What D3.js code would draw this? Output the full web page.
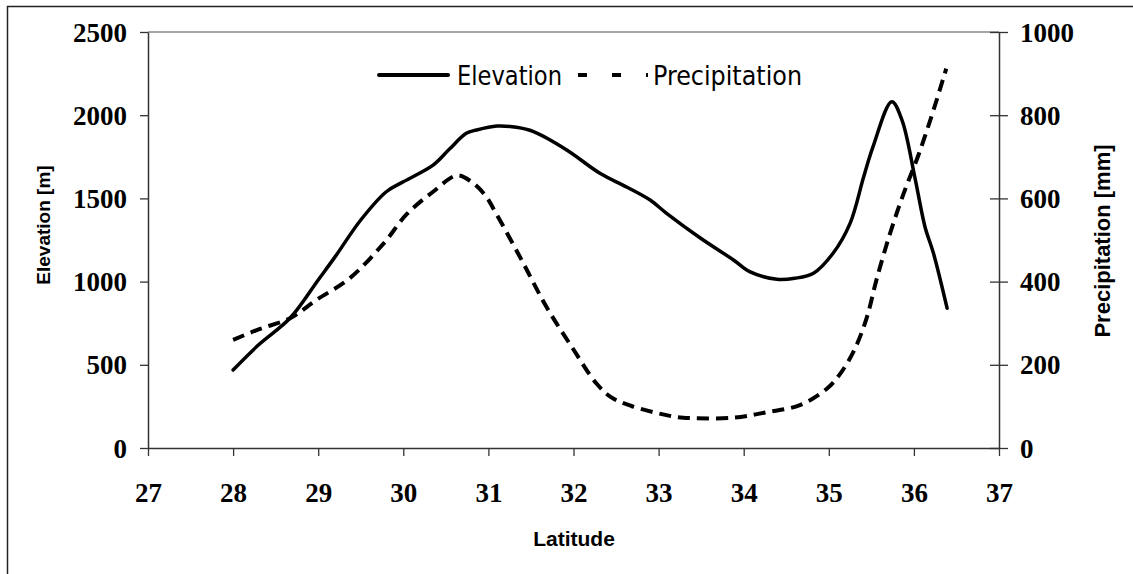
<!DOCTYPE html>
<html>
<head>
<meta charset="utf-8">
<script src="https://cdn.jsdelivr.net/npm/d3@7.9.0/dist/d3.min.js"></script>
<style>
  body { margin: 0; background: #fff; }
  svg { display: block; }
  .tick-label { font-family: "Liberation Serif", "Times New Roman", serif; font-weight: bold; font-size: 27px; fill: #000; }
  .axis-title { font-family: "Liberation Sans", Arial, sans-serif; font-weight: bold; font-size: 19px; fill: #000; }
  .legend-text { font-family: "DejaVu Sans", sans-serif; font-stretch: condensed; font-size: 27px; fill: #000; }
</style>
</head>
<body>
<svg id="chart"></svg>
<script>
// latitude / elevation [m]
const elevLat = [28.0, 28.3, 28.67, 29.0, 29.2, 29.5, 29.8, 30.0, 30.35, 30.54, 30.74, 30.86, 31.1, 31.33, 31.53, 31.92, 32.31, 32.63, 32.9, 33.09, 33.49, 33.88, 34.07, 34.39, 34.6, 34.82, 35.05, 35.25, 35.41, 35.52, 35.74, 35.86, 36.01, 36.13, 36.23, 36.39];
const elevation = [469, 620, 781, 1010, 1150, 1370, 1540, 1600, 1700, 1795, 1891, 1911, 1935, 1927, 1901, 1791, 1651, 1567, 1490, 1412, 1262, 1130, 1060, 1014, 1020, 1050, 1170, 1350, 1630, 1811, 2081, 1971, 1630, 1330, 1170, 840];

// latitude / precipitation [mm]
const precLat = [28.0, 28.3, 28.67, 28.98, 29.37, 29.77, 30.04, 30.35, 30.63, 30.8, 30.96, 31.09, 31.39, 31.68, 31.98, 32.27, 32.45, 32.68, 33.09, 33.29, 33.88, 34.27, 34.66, 34.98, 35.15, 35.31, 35.45, 35.56, 35.72, 35.88, 36.06, 36.23, 36.38];
const precipitation = [260, 285, 312, 356, 408, 492, 562, 616, 655, 640, 608, 564, 452, 340, 243, 155, 121, 101, 79, 73, 73, 86, 103, 143, 183, 240, 316, 404, 516, 612, 708, 812, 912];

const xTicks = [27, 28, 29, 30, 31, 32, 33, 34, 35, 36, 37];
const elevTicks = [0, 500, 1000, 1500, 2000, 2500];
const precTicks = [0, 200, 400, 600, 800, 1000];

const width = 1133;
const height = 574;

const svg = d3.select('#chart')
  .attr('width', width)
  .attr('height', height);

const plot = { left: 148, right: 999, top: 32, bottom: 448 };

const x = d3.scaleLinear().domain([27, 37]).range([plot.left, plot.right]);
const yL = d3.scaleLinear().domain([0, 2500]).range([plot.bottom, plot.top]);
const yR = d3.scaleLinear().domain([0, 1000]).range([plot.bottom, plot.top]);

// outer frame (left and top edges visible)
svg.append('path')
  .attr('d', `M7.5,${height} L7.5,6.5 L${width},6.5`)
  .attr('fill', 'none')
  .attr('stroke', '#222')
  .attr('stroke-width', 1.5);

// top edge of plot area
svg.append('line')
  .attr('x1', plot.left).attr('x2', plot.right)
  .attr('y1', plot.top).attr('y2', plot.top)
  .attr('stroke', '#888')
  .attr('stroke-width', 1.5);

// axes
const axisColor = '#333';
const fmt = d3.format('d');

const xAxis = svg.append('g')
  .attr('transform', `translate(0, ${plot.bottom})`)
  .call(d3.axisBottom(x).tickValues(xTicks).tickSize(8).tickSizeOuter(0).tickFormat(fmt));

const leftAxis = svg.append('g')
  .attr('transform', `translate(${plot.left}, 0)`)
  .call(d3.axisLeft(yL).tickValues(elevTicks).tickSize(8).tickSizeOuter(0).tickPadding(13).tickFormat(fmt));

const rightAxis = svg.append('g')
  .attr('transform', `translate(${plot.right}, 0)`)
  .call(d3.axisRight(yR).tickValues(precTicks).tickSize(9).tickSizeOuter(0).tickPadding(12).tickFormat(fmt));

rightAxis.selectAll('.tick line').attr('x1', -9);

for (const g of [xAxis, leftAxis, rightAxis]) {
  g.select('.domain').attr('stroke', axisColor).attr('stroke-width', 1.5);
  g.selectAll('.tick line').attr('stroke', axisColor).attr('stroke-width', 1.3);
  g.selectAll('.tick text').attr('class', 'tick-label').attr('font-family', null).attr('font-size', null);
}
xAxis.selectAll('.tick text').attr('dy', null).attr('y', 54);
leftAxis.selectAll('.tick text').attr('dy', '0.34em');
rightAxis.selectAll('.tick text').attr('dy', '0.34em');

// series
const lineElev = d3.line()
  .x((d, i) => x(elevLat[i]))
  .y((d) => yL(d))
  .curve(d3.curveCatmullRom.alpha(0.5));

const linePrec = d3.line()
  .x((d, i) => x(precLat[i]))
  .y((d) => yR(d))
  .curve(d3.curveCatmullRom.alpha(0.5));

svg.append('path')
  .datum(precipitation)
  .attr('d', linePrec)
  .attr('fill', 'none')
  .attr('stroke', '#000')
  .attr('stroke-width', 4)
  .attr('stroke-dasharray', '12,7');

svg.append('path')
  .datum(elevation)
  .attr('d', lineElev)
  .attr('fill', 'none')
  .attr('stroke', '#000')
  .attr('stroke-width', 3.5)
  .attr('stroke-linecap', 'round')
  .attr('stroke-linejoin', 'round');

// axis titles
svg.append('text')
  .attr('class', 'axis-title')
  .attr('transform', 'translate(50, 225) rotate(-90)')
  .attr('text-anchor', 'middle')
  .text('Elevation [m]');

svg.append('text')
  .attr('class', 'axis-title')
  .attr('transform', 'translate(1110, 241) rotate(-90)')
  .attr('text-anchor', 'middle')
  .style('font-size', '22px')
  .text('Precipitation [mm]');

svg.append('text')
  .attr('class', 'axis-title')
  .attr('x', 574)
  .attr('y', 546)
  .attr('text-anchor', 'middle')
  .style('font-size', '21px')
  .text('Latitude');

// legend
const legend = svg.append('g');

legend.append('line')
  .attr('x1', 379).attr('x2', 448)
  .attr('y1', 75).attr('y2', 75)
  .attr('stroke', '#000')
  .attr('stroke-width', 4)
  .attr('stroke-linecap', 'round');

legend.append('text')
  .attr('class', 'legend-text')
  .attr('x', 457)
  .attr('y', 85)
  .attr('textLength', 105)
  .attr('lengthAdjust', 'spacingAndGlyphs')
  .text('Elevation');

legend.append('line')
  .attr('x1', 578).attr('x2', 648)
  .attr('y1', 75).attr('y2', 75)
  .attr('stroke', '#000')
  .attr('stroke-width', 4)
  .attr('stroke-dasharray', '9,25');

legend.append('text')
  .attr('class', 'legend-text')
  .attr('x', 653)
  .attr('y', 85)
  .attr('textLength', 149)
  .attr('lengthAdjust', 'spacingAndGlyphs')
  .text('Precipitation');
</script>
</body>
</html>
